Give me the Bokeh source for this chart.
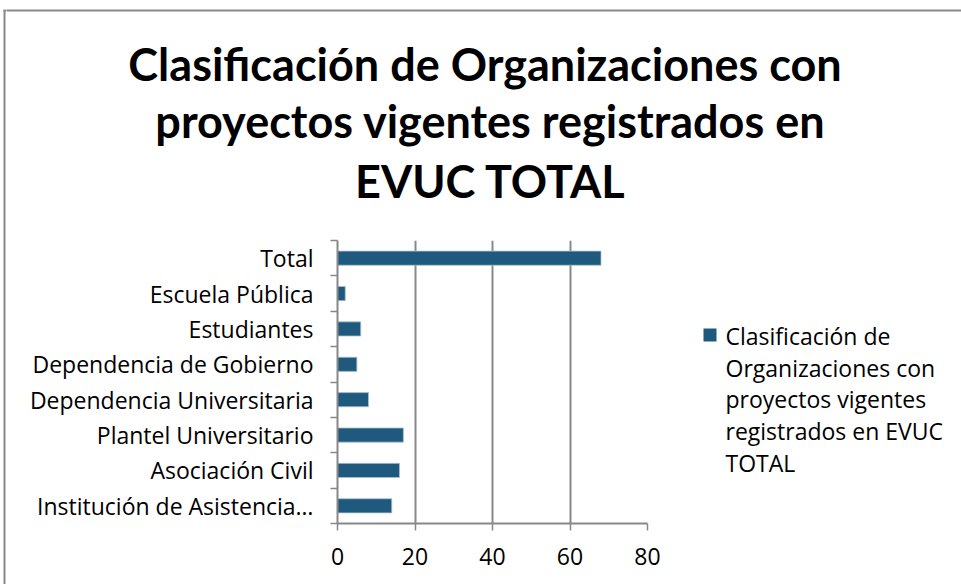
from bokeh.plotting import figure
from bokeh.layouts import column, row
from bokeh.models import FixedTicker, Range1d
from bokeh.core.properties import value
from bokeh.embed import file_html
from bokeh.resources import INLINE

# ---- data ----
categories = ["Institución de Asistencia…", "Asociación Civil", "Plantel Universitario",
              "Dependencia Universitaria", "Dependencia de Gobierno", "Estudiantes",
              "Escuela Pública", "Total"]
values = [14, 16, 17, 8, 5, 6, 2, 68]
x_ticks = [0, 20, 40, 60, 80]
title_lines = ["Clasificación de  Organizaciones con",
               "proyectos vigentes registrados en",
               "EVUC TOTAL"]
legend_lines = ["Clasificación de", "Organizaciones con", "proyectos vigentes",
                "registrados en EVUC", "TOTAL"]

BAR = "#1f5a7e"
GRAY = "#888888"
FONT = "Open Sans"
TFONT = "Lato"

W, H = 961, 584
TOP_H = 226          # height of title strip
LEFT_W = 6           # strip that carries the outer left border
MAIN_W = 680
FL, FR, FT, FB = 337, 647, 240, 523   # plot-frame box on the page


def blank(width, height, x0, x1, y0, y1, **kw):
    f = figure(width=width, height=height, output_backend="svg", toolbar_location=None,
               x_range=Range1d(x0, x1), y_range=Range1d(y1, y0),
               x_axis_location=None, y_axis_location=None, frame_align=False, **kw)
    f.outline_line_color = None
    f.grid.grid_line_color = None
    f.background_fill_color = "white"
    f.border_fill_color = "white"
    return f

# ---- left border strip (full height) ----
left = blank(LEFT_W, H, 0, LEFT_W, 0, H, min_border=0)
left.segment(x0=[4, 3], y0=[10, 10], x1=[4, LEFT_W + 2], y1=[H + 5, 10],
             line_color=GRAY, line_width=2)

# ---- title strip ----
top = blank(W - LEFT_W, TOP_H, LEFT_W, W, 0, TOP_H, min_border=0)
top.segment(x0=[LEFT_W - 2], y0=[10], x1=[W + 5], y1=[10], line_color=GRAY, line_width=2)
top.text(x=[490] * 3, y=[63, 120, 180], text=title_lines,
         text_align="center", text_baseline="alphabetic",
         text_font=value(TFONT), text_font_style="bold", text_font_size="45px",
         text_color="black")

# ---- main chart ----
centers = [i + 0.5 for i in range(len(categories))]
bounds = list(range(len(categories) + 1))

p = figure(width=MAIN_W, height=H - TOP_H, output_backend="svg", toolbar_location=None,
           x_range=Range1d(0, 80), y_range=Range1d(0, len(categories)),
           min_border_left=FL - LEFT_W, min_border_right=MAIN_W - (FR - LEFT_W),
           min_border_top=FT - TOP_H, min_border_bottom=H - FB)
p.outline_line_color = None
p.background_fill_color = "white"
p.border_fill_color = "white"

p.hbar(y=centers, left=0, right=values, height=0.4, fill_color=BAR,
       line_color="#a9c0d2", line_width=0.8)

p.xaxis.ticker = FixedTicker(ticks=x_ticks, minor_ticks=[])
p.xaxis.axis_line_color = GRAY
p.xaxis.axis_line_width = 2
p.xaxis.major_tick_line_color = GRAY
p.xaxis.major_tick_line_width = 1.5
p.xaxis.major_tick_in = 0
p.xaxis.major_tick_out = 7
p.xaxis.major_label_standoff = 17
p.xaxis.major_label_text_font = FONT
p.xaxis.major_label_text_font_size = "23px"
p.xaxis.major_label_text_color = "black"

p.yaxis.ticker = FixedTicker(ticks=centers, minor_ticks=bounds)
p.yaxis.major_label_overrides = {c: cat for c, cat in zip(centers, categories)}
p.yaxis.axis_line_color = GRAY
p.yaxis.axis_line_width = 2
p.yaxis.major_tick_in = 0
p.yaxis.major_tick_out = 0
p.yaxis.minor_tick_in = 0
p.yaxis.minor_tick_out = 7
p.yaxis.minor_tick_line_color = GRAY
p.yaxis.minor_tick_line_width = 1.5
p.yaxis.major_label_standoff = 17
p.yaxis.major_label_text_font = FONT
p.yaxis.major_label_text_font_size = "23px"
p.yaxis.major_label_text_color = "black"

p.ygrid.grid_line_color = None
p.xgrid.ticker = FixedTicker(ticks=x_ticks)
p.xgrid.grid_line_color = GRAY
p.xgrid.grid_line_width = 2

# ---- legend strip (same vertical borders as the chart, so frames line up) ----
LX0 = LEFT_W + MAIN_W
leg = blank(W - LX0, H - TOP_H, LX0, W, FT, FB,
            min_border_left=0, min_border_right=0,
            min_border_top=FT - TOP_H, min_border_bottom=H - FB)
leg.quad(left=[703], right=[716], top=[328], bottom=[341], fill_color=BAR, line_color=None)
leg.text(x=[725] * len(legend_lines), y=[335.5 + 31.7 * i for i in range(len(legend_lines))],
         text=legend_lines, text_align="left", text_baseline="alphabetic",
         text_font=value(FONT), text_font_size="23px", text_color="black")

layout = row(left, column(top, row(p, leg)))
open("out.html", "w").write(file_html(layout, INLINE))
